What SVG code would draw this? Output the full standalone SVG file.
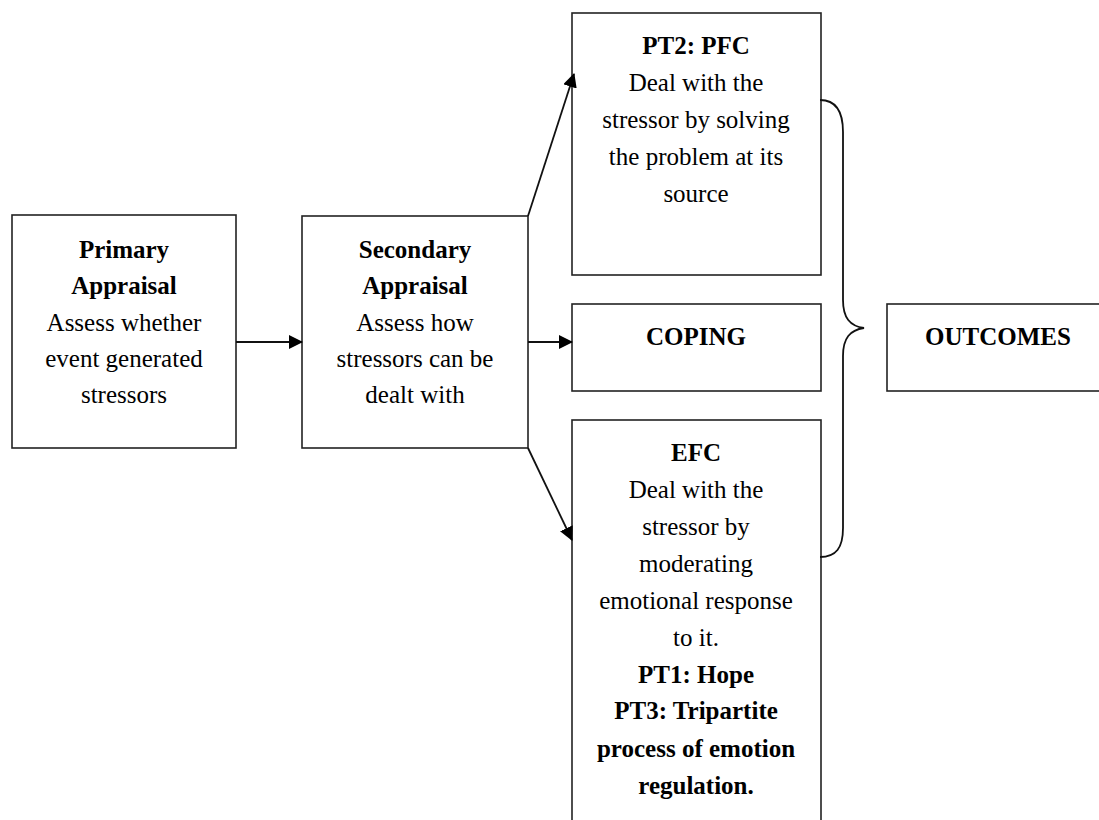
<svg xmlns="http://www.w3.org/2000/svg" width="1099" height="820" viewBox="0 0 1099 820">
<defs>
<marker id="ah" markerWidth="14" markerHeight="14" refX="13" refY="7" orient="auto" markerUnits="userSpaceOnUse" viewBox="0 0 14 14">
<path d="M0,0 L14,7 L0,14 z" fill="#000"/>
</marker>
<style>
.box{fill:#fff;stroke:#222;stroke-width:1.6}
.t{font-family:"Liberation Serif","Times New Roman",serif;font-size:25px;fill:#000;text-anchor:middle}
.b{font-weight:bold}
.con{fill:none;stroke:#111;stroke-width:1.8}
</style>
</defs>
<rect width="1099" height="820" fill="#fff"/>
<g id="primary">
<rect class="box" x="12" y="215" width="224" height="233"/>
<text class="t b" x="124" y="258">Primary</text>
<text class="t b" x="124" y="294">Appraisal</text>
<text class="t" x="124" y="331">Assess whether</text>
<text class="t" x="124" y="367">event generated</text>
<text class="t" x="124" y="403">stressors</text>
</g>
<g id="secondary">
<rect class="box" x="302" y="216" width="226" height="232"/>
<text class="t b" x="415" y="258">Secondary</text>
<text class="t b" x="415" y="294">Appraisal</text>
<text class="t" x="415" y="331">Assess how</text>
<text class="t" x="415" y="367">stressors can be</text>
<text class="t" x="415" y="403">dealt with</text>
</g>
<g id="pfc">
<rect class="box" x="572" y="13" width="249" height="262"/>
<text class="t b" x="696" y="54">PT2: PFC</text>
<text class="t" x="696" y="91">Deal with the</text>
<text class="t" x="696" y="128">stressor by solving</text>
<text class="t" x="696" y="165">the problem at its</text>
<text class="t" x="696" y="202">source</text>
</g>
<g id="coping">
<rect class="box" x="572" y="304" width="249" height="87"/>
<text class="t b" x="696" y="345">COPING</text>
</g>
<g id="efc">
<rect class="box" x="572" y="420" width="249" height="420"/>
<text class="t b" x="696" y="461">EFC</text>
<text class="t" x="696" y="498">Deal with the</text>
<text class="t" x="696" y="535">stressor by</text>
<text class="t" x="696" y="572">moderating</text>
<text class="t" x="696" y="609">emotional response</text>
<text class="t" x="696" y="646">to it.</text>
<text class="t b" x="696" y="683">PT1: Hope</text>
<text class="t b" x="696" y="719">PT3: Tripartite</text>
<text class="t b" x="696" y="757">process of emotion</text>
<text class="t b" x="696" y="794">regulation.</text>
</g>
<g id="outcomes">
<rect class="box" x="887" y="304" width="230" height="87"/>
<text class="t b" x="998" y="345">OUTCOMES</text>
</g>
<g id="connectors">
<line class="con" x1="236" y1="342" x2="302" y2="342" marker-end="url(#ah)"/>
<line class="con" x1="528" y1="342" x2="572" y2="342" marker-end="url(#ah)"/>
<line class="con" x1="528" y1="216" x2="574" y2="74" marker-end="url(#ah)"/>
<line class="con" x1="528" y1="448" x2="572" y2="540" marker-end="url(#ah)"/>
<path class="con" stroke-width="1.5" d="M820,100 C836,100 843,112 843,132 L843,300 C843,318 850,326 864,328 C850,330 843,338 843,356 L843,528 C843,548 836,557 820,557"/>
</g>
</svg>
